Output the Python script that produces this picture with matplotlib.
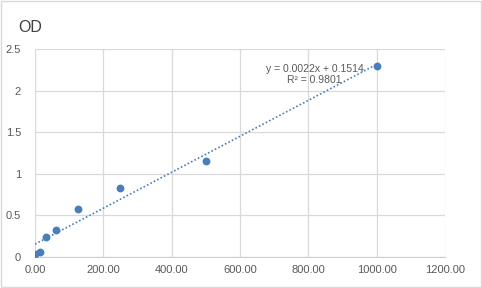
import matplotlib
matplotlib.use("Agg")
import matplotlib.pyplot as plt
import numpy as np
from matplotlib.patches import Rectangle

plt.rcParams['font.family'] = ['Liberation Sans', 'DejaVu Sans']

concentration = [0.0, 15.625, 31.25, 62.5, 125.0, 250.0, 500.0, 1000.0]
od = [0.032, 0.056, 0.241, 0.317, 0.571, 0.832, 1.154, 2.303]
x_ticks = [0, 200, 400, 600, 800, 1000, 1200]
x_labels = ["0.00", "200.00", "400.00", "600.00", "800.00", "1000.00", "1200.00"]
y_ticks = [0, 0.5, 1, 1.5, 2, 2.5]
y_labels = ["0", "0.5", "1", "1.5", "2", "2.5"]
eq_text = "y = 0.0022x + 0.1514\nR² = 0.9801"

fig = plt.figure(figsize=(4.82, 2.88), dpi=100)
fig.patches.append(Rectangle((0.002, 0.003), 0.995, 0.993, transform=fig.transFigure,
                             fill=False, edgecolor='#d9d9d9', linewidth=1.0))
ax = fig.add_axes([0.0726, 0.1087, 0.8504, 0.7203])

marker_color = '#4a7ebb'
slope, intercept = np.polyfit(concentration, od, 1)
xs = np.array([min(concentration), max(concentration)])
ax.plot(xs, slope * xs + intercept, linestyle=(0, (1, 1.3)), color='#4a7ebb', linewidth=1.2, zorder=2)
ax.scatter(concentration, od, s=32, color=marker_color, zorder=3, linewidths=0)

ax.set_xlim(0, 1200)
ax.set_ylim(0, 2.5)
ax.set_xticks(x_ticks)
ax.set_xticklabels(x_labels)
ax.set_yticks(y_ticks)
ax.set_yticklabels(y_labels)
ax.grid(True, color='#d9d9d9', linewidth=0.9)
ax.set_axisbelow(True)
for side in ['left', 'top', 'right']:
    ax.spines[side].set_visible(False)
ax.spines['bottom'].set_color('#d0d0d0')
ax.tick_params(axis='both', length=0, labelsize=8, colors='#595959', pad=6)
ax.tick_params(axis='y', pad=10)

ax.text(819, 2.197, eq_text, ha='center', va='center', fontsize=7.5, color='#595959',
        linespacing=1.15, zorder=4)

fig.text(0.037, 0.905, "OD", fontsize=11.5, color='#404040', ha='left', va='center')

fig.savefig("out.png", dpi=100)
